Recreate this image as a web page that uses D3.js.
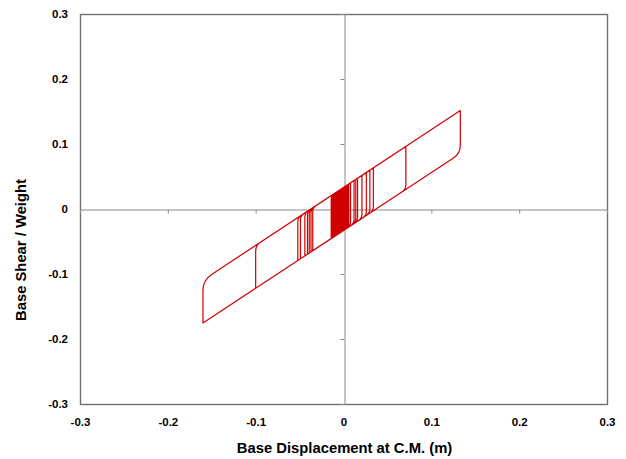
<!DOCTYPE html>
<html>
<head>
<meta charset="utf-8">
<script src="https://cdn.jsdelivr.net/npm/d3@7"></script>
<style>
  body { margin: 0; background: #fff; }
  svg text { font-family: "Liberation Sans", Arial, sans-serif; font-weight: bold; fill: #000; }
</style>
</head>
<body>
<svg id="chart" width="626" height="459"></svg>
<script>
// tick values and labels
var xTicks = [-0.3, -0.2, -0.1, 0, 0.1, 0.2, 0.3];
var xTickLabels = ["-0.3", "-0.2", "-0.1", "0", "0.1", "0.2", "0.3"];
var yTicks = [-0.3, -0.2, -0.1, 0, 0.1, 0.2, 0.3];
var yTickLabels = ["-0.3", "-0.2", "-0.1", "0", "0.1", "0.2", "0.3"];

// hysteresis: displacement at each reversal, shear arriving there, shear after the jump
var revDisp = [0.000, 0.004, -0.006, 0.008, -0.010, 0.012, -0.035, 0.021, -0.049, 0.071,
               -0.160, 0.133, -0.100, 0.034, -0.052, 0.030, -0.044, 0.026, -0.041, 0.016,
               -0.039, 0.014, -0.037, 0.005, -0.013, 0.003, -0.011, 0.004, -0.009, 0.002,
               -0.012, 0.001, -0.008, 0.003, -0.010, 0.000, -0.007, 0.002, -0.005, -0.001,
               -0.006, 0.001, -0.004,
               0.004, -0.014, 0.006, -0.003, 0.000, -0.012, 0.002, -0.009, 0.005, -0.011,
               -0.002, -0.008, 0.003, -0.013, 0.001, -0.007, -0.003, -0.010, 0.0005, -0.006,
               -0.002];
var revShearFrom = [0.000, 0.0366, -0.0383, 0.0401, -0.0419, 0.0437, -0.0642, 0.0517, -0.0766, 0.0962,
                    -0.1754, 0.1514, -0.1220, 0.0633, -0.0793, 0.0597, -0.0722, 0.0561, -0.0695, 0.0472,
                    -0.0677, 0.0455, -0.0659, 0.0375, -0.0446, 0.0357, -0.0428, 0.0366, -0.0410, 0.0348,
                    -0.0437, 0.0339, -0.0401, 0.0357, -0.0419, 0.0330, -0.0392, 0.0348, -0.0375, 0.0321,
                    -0.0383, 0.0339, -0.0366,
                    0.0366, -0.0455, 0.0383, -0.0357, 0.0330, -0.0437, 0.0348, -0.0410, 0.0375, -0.0428,
                    0.0312, -0.0401, 0.0357, -0.0446, 0.0339, -0.0392, 0.0303, -0.0419, 0.0334, -0.0383,
                    0.0312];
var revShearTo = [0.0330, -0.0294, 0.0277, -0.0259, 0.0241, -0.0223, 0.0019, -0.0143, -0.0106, 0.0302,
                  -0.1094, 0.0854, -0.0560, -0.0027, -0.0133, -0.0063, -0.0062, -0.0099, -0.0035, -0.0188,
                  -0.0017, -0.0205, 0.0001, -0.0286, 0.0214, -0.0303, 0.0232, -0.0294, 0.0250, -0.0312,
                  0.0223, -0.0321, 0.0259, -0.0303, 0.0241, -0.0330, 0.0268, -0.0312, 0.0286, -0.0339,
                  0.0277, -0.0321, 0.0295,
                  -0.0294, 0.0205, -0.0277, 0.0303, -0.0330, 0.0223, -0.0312, 0.0250, -0.0286, 0.0232,
                  -0.0348, 0.0259, -0.0303, 0.0214, -0.0321, 0.0268, -0.0357, 0.0241, -0.0326, 0.0277,
                  0.0312];

var svg = d3.select("#chart");
var plotL = 80, plotR = 607, plotT = 14, plotB = 404;

var x = d3.scaleLinear().domain([-0.3, 0.3]).range([plotL, plotR]);
var y = d3.scaleLinear().domain([-0.3, 0.3]).range([plotB, plotT]);

// plot frame
svg.append("rect")
    .attr("x", plotL + 0.5).attr("y", plotT + 0.5)
    .attr("width", plotR - plotL).attr("height", plotB - plotT)
    .style("fill", "none").style("stroke", "#6f6f6f").style("stroke-width", 1.4);

// axes through zero, ticks only
var xZero = svg.append("g")
    .attr("transform", "translate(0," + (Math.round(y(0)) + 0.5) + ")")
    .call(d3.axisBottom(x).tickValues(xTicks).tickSize(4).tickFormat(""));
var yZero = svg.append("g")
    .attr("transform", "translate(" + (Math.round(x(0)) + 0.5) + ",0)")
    .call(d3.axisLeft(y).tickValues(yTicks).tickSize(4).tickFormat(""));
[xZero, yZero].forEach(function (g) {
    g.select(".domain").style("stroke", "#8a8a8a");
    g.selectAll(".tick line").style("stroke", "#8a8a8a");
});

// labels along frame edges
var xLab = svg.append("g")
    .attr("transform", "translate(0," + plotB + ")")
    .call(d3.axisBottom(x).tickValues(xTicks).tickSize(0).tickPadding(14)
          .tickFormat(function (d, i) { return xTickLabels[i]; }));
var yLab = svg.append("g")
    .attr("transform", "translate(" + plotL + ",0)")
    .call(d3.axisLeft(y).tickValues(yTicks).tickSize(0).tickPadding(12)
          .tickFormat(function (d, i) { return yTickLabels[i]; }));
[xLab, yLab].forEach(function (g) {
    g.select(".domain").remove();
    g.selectAll("text").style("font-size", "11.5px")
        .style("font-family", "Liberation Sans, Arial, sans-serif").style("font-weight", "bold");
});

// hysteresis path, rounded knee where the shear jump meets the next branch
var pts = revDisp.map(function (d, i) {
    return { a: [x(d), y(revShearFrom[i])], b: [x(d), y(revShearTo[i])] };
});
var p = d3.path();
p.moveTo(pts[0].a[0], pts[0].a[1]);
pts.forEach(function (q, i) {
    var nxt = pts[i + 1];
    if (!nxt) { p.lineTo(q.b[0], q.b[1]); return; }
    var r = 4 + Math.max(0, Math.abs(q.a[0] - x(0)) - 70) * 0.09;
    var v1 = Math.abs(q.b[1] - q.a[1]);
    var dx = nxt.a[0] - q.b[0], dy = nxt.a[1] - q.b[1];
    var len = Math.sqrt(dx * dx + dy * dy);
    r = Math.min(r, v1 * 0.4, len * 0.4);
    var sgn = q.b[1] > q.a[1] ? 1 : -1;
    p.lineTo(q.b[0], q.b[1] - sgn * r);
    p.quadraticCurveTo(q.b[0], q.b[1], q.b[0] + dx / len * r, q.b[1] + dy / len * r);
    p.lineTo(nxt.a[0], nxt.a[1]);
});
svg.append("path")
    .attr("d", p.toString())
    .style("fill", "none")
    .style("stroke", "#d00000")
    .style("stroke-width", 1.2)
    .style("stroke-linejoin", "round");

// axis titles
svg.append("text")
    .attr("x", (plotL + plotR) / 2 + 1).attr("y", 453)
    .attr("text-anchor", "middle")
    .style("font-size", "14.8px")
    .text("Base Displacement at C.M. (m)");
svg.append("text")
    .attr("transform", "translate(26,250) rotate(-90)")
    .attr("text-anchor", "middle")
    .style("font-size", "14.8px")
    .text("Base Shear / Weight");
</script>
</body>
</html>
